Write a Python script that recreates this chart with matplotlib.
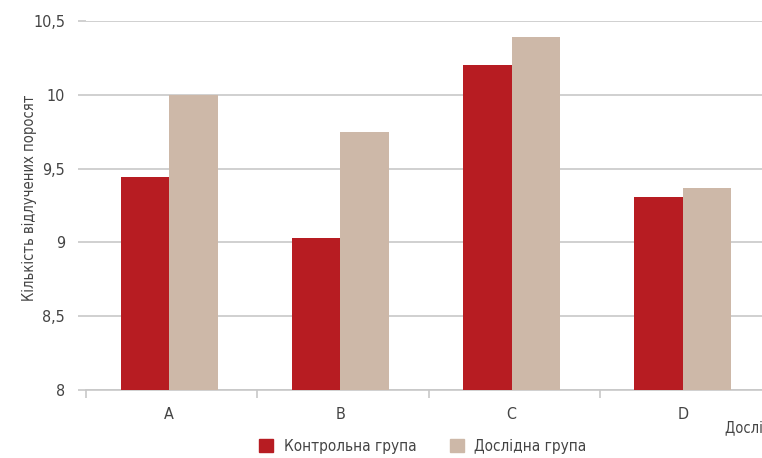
import numpy as np
import matplotlib
matplotlib.use("Agg")
import matplotlib.pyplot as plt
from matplotlib.patches import Patch

#  DATA
categories = ["A", "B", "C", "D"]
control    = [9.44, 9.03, 10.20, 9.31]
experiment = [10.00, 9.75, 10.39, 9.37]
series_names = ["Контрольна група", "Дослідна група"]
y_ticks  = [8, 8.5, 9, 9.5, 10, 10.5]
y_labels = ["8", "8,5", "9", "9,5", "10", "10,5"]

#  STYLE
RED   = "#B71C22"
BEIGE = "#CDB8A8"
TEXT  = "#444444"
GRID  = "#C8C8C8"
plt.rcParams['font.family'] = ['DejaVu Sans']
plt.rcParams['font.stretch'] = 'condensed'

W, H = 762, 458
fig = plt.figure(figsize=(W / 100, H / 100), dpi=100)
ax = fig.add_axes([86 / W, (H - 390) / H, (771 - 86) / W, (390 - 21) / H])

x = np.arange(len(categories))
bw = 0.283
ax.bar(x - bw / 2, np.array(control) - 8, bw, bottom=8, color=RED, zorder=3)
ax.bar(x + bw / 2, np.array(experiment) - 8, bw, bottom=8, color=BEIGE, zorder=3)

ax.set_xlim(-0.483, 3.50)
ax.set_ylim(8, 10.5)
ax.set_yticks(y_ticks)
ax.set_yticklabels(y_labels)
ax.yaxis.grid(True, color=GRID, linewidth=1.2, zorder=0)
ax.tick_params(axis='y', length=6, color=GRID, width=1.2, pad=9,
               labelsize=11.5, labelcolor=TEXT)

# category boundaries as major ticks, labels on minor ticks
ax.set_xticks(np.arange(len(categories) + 1) - 0.485)
ax.set_xticklabels([])
ax.set_xticks(x, minor=True)
ax.set_xticklabels(categories, minor=True)
ax.tick_params(axis='x', which='major', length=6, color=GRID, width=1.2)
ax.tick_params(axis='x', which='minor', length=0, pad=12,
               labelsize=11.5, labelcolor=TEXT)

for s in ["top", "right", "left"]:
    ax.spines[s].set_visible(False)
ax.spines["bottom"].set_color(GRID)
ax.spines["bottom"].set_linewidth(1.2)

ax.set_ylabel("Кількість відлучених поросят", fontsize=10.5, color=TEXT)
ax.yaxis.set_label_coords((37 - 86) / 685, 0.52)
fig.text(725 / W, 1 - 428 / H, "Дослідні групи", fontsize=10.5, color=TEXT,
         ha="left", va="center")

handles = [Patch(color=RED), Patch(color=BEIGE)]
fig.legend(handles, series_names, loc="center", bbox_to_anchor=(423 / W, 1 - 446 / H),
           ncol=2, frameon=False, fontsize=11, labelcolor=TEXT,
           handlelength=0.9, handleheight=0.9, columnspacing=2.2, handletextpad=0.7)

fig.savefig("out.png", dpi=100)
